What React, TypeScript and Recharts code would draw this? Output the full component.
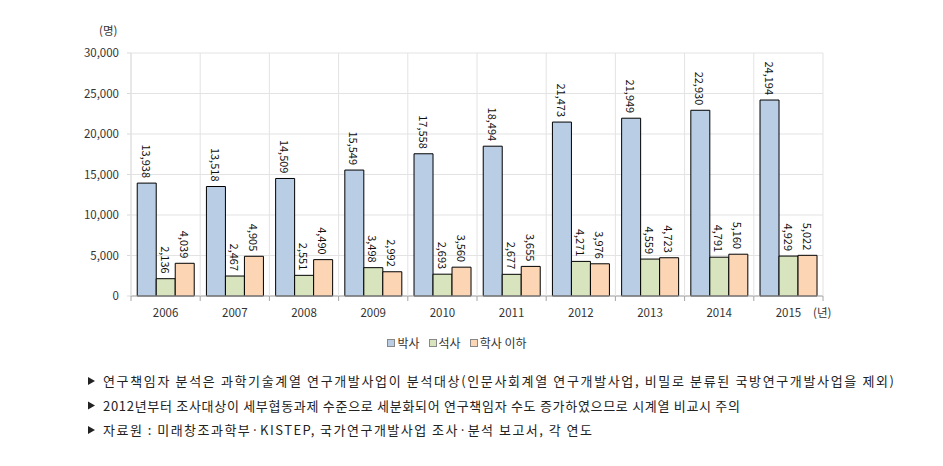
import React from 'react'
import {
  BarChart,
  Bar,
  XAxis,
  YAxis,
  CartesianGrid,
  Legend,
  LabelList,
} from 'recharts'

const years = ['2006', '2007', '2008', '2009', '2010', '2011', '2012', '2013', '2014', '2015']
const phd = [13938, 13518, 14509, 15549, 17558, 18494, 21473, 21949, 22930, 24194]
const masters = [2136, 2467, 2551, 3498, 2693, 2677, 4271, 4559, 4791, 4929]
const bachelor = [4039, 4905, 4490, 2992, 3560, 3655, 3976, 4723, 5160, 5022]
const yTicks = [0, 5000, 10000, 15000, 20000, 25000, 30000]

const seriesNames = ['박사', '석사', '학사 이하']
const seriesColors = ['#b9cde5', '#d7e4bd', '#fcd5b5']

const notes = [
  '연구책임자 분석은 과학기술계열 연구개발사업이 분석대상(인문사회계열 연구개발사업, 비밀로 분류된 국방연구개발사업을 제외)',
  '2012년부터 조사대상이 세부협동과제 수준으로 세분화되어 연구책임자 수도 증가하였으므로 시계열 비교시 주의',
  '자료원 : 미래창조과학부·KISTEP, 국가연구개발사업 조사·분석 보고서, 각 연도',
]
const noteWidths = [791, 637, 489]

const data = years.map((y, i) => ({
  year: y,
  phd: phd[i],
  masters: masters[i],
  bachelor: bachelor[i],
}))

const W = 943
const H = 360
const X_H = 30
const M = { top: 53, right: 120, left: 0, bottom: 34 }
const Y_W = 131
const band = (W - M.right - Y_W) / years.length
const AXIS_Y = H - M.bottom - X_H
const PLOT_TOP = M.top

const FONT = '"Noto Sans CJK KR", "Noto Sans", sans-serif'
const fmt = (v: number) => v.toLocaleString('en-US')

const renderLabel = (props: any) => {
  const { x, y, width, value } = props
  const cx = Number(x) + Number(width) / 2
  const ty = Number(y) - 5
  return (
    <text
      x={cx}
      y={ty}
      transform={`rotate(90 ${cx} ${ty})`}
      textAnchor="end"
      dominantBaseline="central"
      fontSize={11}
      fontFamily={FONT}
      fill="#111"
    >
      {fmt(Number(value))}
    </text>
  )
}

// labels plus the boundary grid lines / tick marks between categories
const XTick = (props: any) => {
  const { x, payload, index } = props
  const half = band / 2
  const edges = index === 0 ? [x - half, x + half] : [x + half]
  return (
    <g>
      {edges.map(ex => (
        <g key={ex}>
          <line x1={ex} x2={ex} y1={PLOT_TOP} y2={AXIS_Y} stroke="#e3e3e3" />
          <line x1={ex} x2={ex} y1={AXIS_Y} y2={AXIS_Y + 5} stroke="#a6a6a6" />
        </g>
      ))}
      <text x={x} y={AXIS_Y + 21} textAnchor="middle" fontSize={11.5} fontFamily={FONT} fill="#333">
        {payload.value}
      </text>
    </g>
  )
}

const LegendBox = () => (
  <div style={{ display: 'flex', justifyContent: 'center', fontFamily: FONT, fontSize: 12, color: '#333' }}>
    {seriesNames.map((n, i) => (
      <span key={n} style={{ display: 'inline-flex', alignItems: 'center', marginRight: 9 }}>
        <span style={{ width: 6, height: 6, background: seriesColors[i], border: '1px solid #888', marginRight: 2 }} />
        {n}
      </span>
    ))}
  </div>
)

export default function App() {
  return (
    <div style={{ position: 'absolute', left: 0, top: 0, width: W, height: 466, background: '#fff', fontFamily: FONT }}>
      <span style={{ position: 'absolute', left: 99, top: 22, fontSize: 11.5, color: '#333' }}>(명)</span>
      <span style={{ position: 'absolute', left: 813, top: 304, fontSize: 11.5, color: '#333' }}>(년)</span>
      <BarChart width={W} height={H} data={data} margin={M} barCategoryGap="9%" barGap={0}>
        <CartesianGrid vertical={false} stroke="#e3e3e3" />
        <XAxis
          dataKey="year"
          axisLine={{ stroke: '#a6a6a6' }}
          tickLine={false}
          tick={<XTick />}
          interval={0}
          height={X_H}
        />
        <YAxis
          width={Y_W}
          domain={[0, 30000]}
          ticks={yTicks}
          tickFormatter={fmt}
          axisLine={{ stroke: '#d9d9d9' }}
          tickLine={{ stroke: '#d9d9d9' }}
          tickSize={4}
          tickMargin={8}
          tick={{ fontSize: 11.5, fill: '#333', fontFamily: FONT }}
        />
        <Legend
          verticalAlign="middle"
          align="center"
          content={<LegendBox />}
          wrapperStyle={{ top: 334, left: -10, width: W }}
        />
        <Bar dataKey="phd" name={seriesNames[0]} fill={seriesColors[0]} stroke="#000" strokeWidth={1} isAnimationActive={false}>
          <LabelList dataKey="phd" content={renderLabel} />
        </Bar>
        <Bar dataKey="masters" name={seriesNames[1]} fill={seriesColors[1]} stroke="#000" strokeWidth={1} isAnimationActive={false}>
          <LabelList dataKey="masters" content={renderLabel} />
        </Bar>
        <Bar dataKey="bachelor" name={seriesNames[2]} fill={seriesColors[2]} stroke="#000" strokeWidth={1} isAnimationActive={false}>
          <LabelList dataKey="bachelor" content={renderLabel} />
        </Bar>
      </BarChart>
      <svg width={W} height={100} style={{ position: 'absolute', left: 0, top: 366 }}>
        {notes.map((n, i) => {
          const base = 20 + i * 24.5
          return (
            <g key={n}>
              <path d={`M88 ${base - 9} L95 ${base - 5} L88 ${base - 1} Z`} fill="#222" />
              <text
                x={103}
                y={base}
                fontSize={13}
                fontFamily={FONT}
                fill="#222"
                textLength={noteWidths[i]}
                lengthAdjust="spacing"
              >
                {n}
              </text>
            </g>
          )
        })}
      </svg>
    </div>
  )
}
